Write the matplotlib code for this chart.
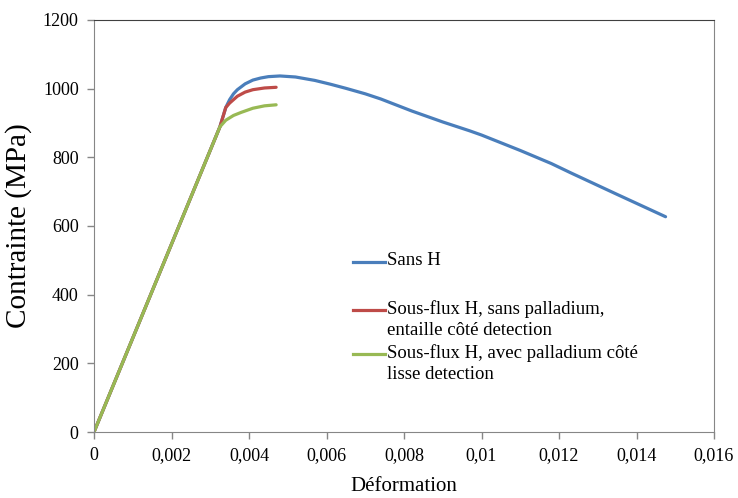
import numpy as np
import matplotlib
matplotlib.use("Agg")
import matplotlib.pyplot as plt

plt.rcParams["font.family"] = ["Liberation Serif", "DejaVu Serif"]

# ---- data ------------------------------------------------------------------
sans_h_x = [0, 0.00325, 0.0034, 0.0035, 0.0036, 0.0037, 0.0039, 0.0041, 0.0043,
            0.0045, 0.0048, 0.0052, 0.0057, 0.0061, 0.0065, 0.0070, 0.0074,
            0.0082, 0.0090, 0.0097, 0.0100, 0.0110, 0.0118, 0.0123, 0.0135,
            0.01475]
sans_h_y = [0, 889, 945, 968, 985, 997, 1014, 1025, 1031, 1035, 1037, 1034,
            1024, 1013, 1001, 985, 970, 935, 903, 877, 865, 820, 782, 755, 692,
            627]

sans_pd_x = [0, 0.00325, 0.0034, 0.0035, 0.0037, 0.0039, 0.0041, 0.0044, 0.0047]
sans_pd_y = [0, 889, 945, 958, 978, 990, 997, 1002, 1004]

avec_pd_x = [0, 0.00325, 0.0034, 0.0036, 0.0038, 0.0041, 0.0044, 0.0047]
avec_pd_y = [0, 889, 908, 922, 931, 943, 950, 953]

labels = ["Sans H",
          "Sous-flux H, sans palladium,\nentaille côté detection",
          "Sous-flux H, avec palladium côté\nlisse detection"]
colors = ["#4A7EBB", "#BE4B48", "#98B954"]

xticks = [0, 0.002, 0.004, 0.006, 0.008, 0.01, 0.012, 0.014, 0.016]
xtick_labels = ["0", "0,002", "0,004", "0,006", "0,008", "0,01", "0,012", "0,014", "0,016"]
yticks = [0, 200, 400, 600, 800, 1000, 1200]

# ---- figure ----------------------------------------------------------------
fig = plt.figure(figsize=(7.38, 4.98), dpi=100)
ax = fig.add_axes([94/738, 66/498, 620/738, 412/498])

series = [(sans_h_x, sans_h_y), (sans_pd_x, sans_pd_y), (avec_pd_x, avec_pd_y)]
for (x, y), c in zip(series, colors):
    ax.plot(x, y, color=c, lw=2.3, solid_capstyle="round", solid_joinstyle="round")

ax.set_xlim(0, 0.016); ax.set_ylim(0, 1200)
ax.set_xticks(xticks); ax.set_xticklabels(xtick_labels)
ax.set_yticks(yticks)
ax.tick_params(labelsize=13, length=5, width=1, color="#868686", direction="out", pad=6)
for s in ["left", "bottom", "right"]:
    ax.spines[s].set_color("#868686")
ax.spines["top"].set_color("#404040")
ax.set_xlabel("Déformation", fontsize=15, labelpad=9)
ax.set_ylabel("Contrainte (MPa)", fontsize=21, labelpad=8)

# manual legend (handle aligned with first text line, as in the original)
leg_y = [0.412, 0.297, 0.19]
for yy, lab, c in zip(leg_y, labels, colors):
    ax.plot([0.417, 0.469], [yy, yy], transform=ax.transAxes, color=c, lw=2.3)
    ax.text(0.472, yy + 0.024, lab, transform=ax.transAxes, fontsize=13.5,
            va="top", ha="left", linespacing=1.3)

fig.savefig("out.png", dpi=100)
